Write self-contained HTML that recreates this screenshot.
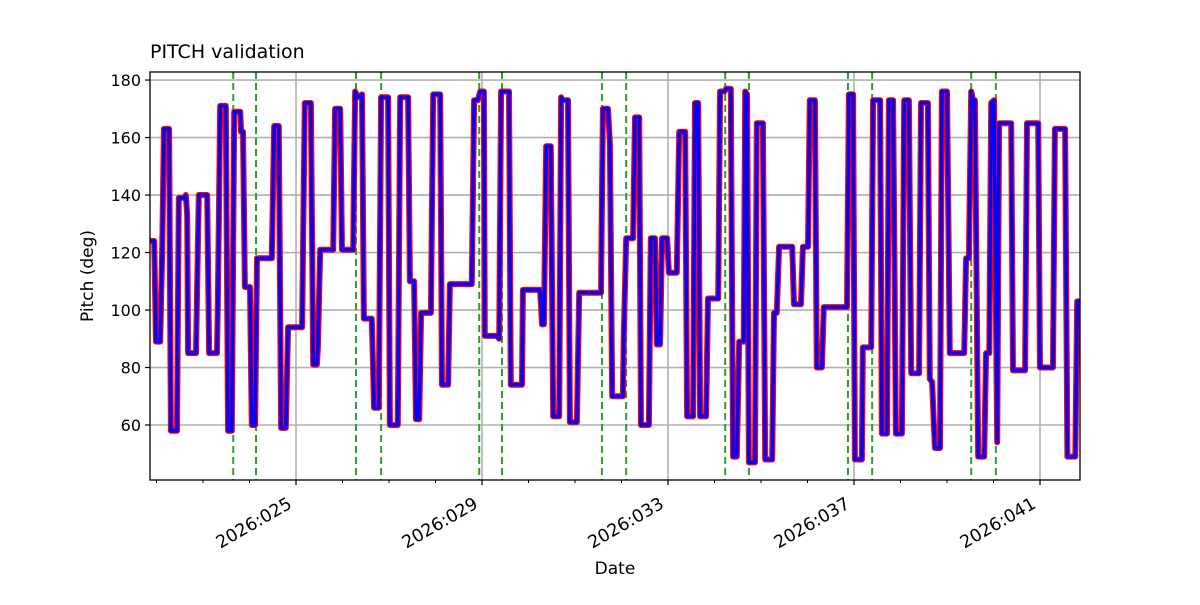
<!DOCTYPE html>
<html><head><meta charset="utf-8"><style>
body{margin:0;background:#fff}
svg{font-family:"DejaVu Sans","Liberation Sans",sans-serif}
</style></head><body>
<svg id="chart" width="1200" height="600" xmlns="http://www.w3.org/2000/svg">
<rect width="1200" height="600" fill="#fff"/>
<text x="150" y="58" font-size="19" fill="#000">PITCH validation</text>
<text transform="translate(93,276) rotate(-90)" text-anchor="middle" font-size="17">Pitch (deg)</text>
<text x="615" y="574" text-anchor="middle" font-size="17">Date</text>
<g id="grid"></g><g id="marks"></g><g id="axes"></g>
</svg>
<script>
const times=[21.86,21.95,21.99,22.08,22.12,22.16,22.27,22.31,22.44,22.48,22.61,22.63,22.66,22.68,22.85,22.91,23.09,23.13,23.30,23.32,23.37,23.49,23.54,23.62,23.67,23.80,23.82,23.86,23.90,24.01,24.05,24.12,24.16,24.48,24.53,24.63,24.68,24.78,24.83,25.13,25.19,25.32,25.37,25.45,25.47,25.52,25.80,25.84,25.95,25.99,26.23,26.27,26.33,26.42,26.46,26.63,26.68,26.78,26.83,26.98,27.02,27.19,27.24,27.41,27.45,27.54,27.58,27.65,27.69,27.90,27.95,28.10,28.14,28.27,28.31,28.78,28.83,28.91,28.96,29.04,29.06,29.32,29.37,29.41,29.58,29.62,29.86,29.88,30.25,30.29,30.33,30.38,30.48,30.53,30.66,30.70,30.74,30.85,30.89,31.04,31.09,31.56,31.60,31.71,31.75,31.80,32.03,32.05,32.10,32.25,32.29,32.38,32.42,32.59,32.63,32.72,32.76,32.83,32.87,32.98,33.02,33.19,33.24,33.37,33.41,33.54,33.58,33.65,33.69,33.82,33.86,34.08,34.12,34.21,34.25,34.35,34.40,34.48,34.53,34.63,34.66,34.70,34.74,34.87,34.91,35.04,35.09,35.24,35.28,35.34,35.39,35.67,35.71,35.86,35.90,36.01,36.05,36.16,36.20,36.31,36.35,36.85,36.89,36.98,37.02,37.17,37.19,37.37,37.41,37.56,37.60,37.71,37.75,37.84,37.90,38.03,38.08,38.18,38.23,38.40,38.44,38.59,38.63,38.68,38.74,38.85,38.89,39.00,39.06,39.37,39.41,39.47,39.52,39.56,39.60,39.67,39.80,39.84,39.91,39.95,40.01,40.08,40.12,40.38,40.42,40.68,40.72,40.96,41.00,41.28,41.32,41.54,41.59,41.76,41.80,41.87];
const pitch=[124,124,89,89,119,163,163,58,58,139,139,140,133,85,85,140,140,85,85,104,171,171,58,58,169,169,162,162,108,108,60,60,118,118,164,164,59,59,94,94,172,172,81,81,87,121,121,170,170,121,121,176,174,175,97,97,66,66,174,174,60,60,174,174,110,110,62,62,99,99,175,175,74,74,109,109,173,173,176,176,91,91,90,176,176,74,74,107,107,95,95,157,157,63,63,174,173,173,61,61,106,106,170,170,158,70,70,91,125,125,167,167,60,60,125,125,88,88,125,125,113,113,162,162,63,63,172,172,63,63,104,104,176,176,177,177,49,49,89,89,176,175,47,47,165,165,48,48,99,99,122,122,102,102,122,122,173,173,80,80,101,101,175,175,48,48,87,87,173,173,57,57,173,173,57,57,173,173,78,78,172,172,76,75,52,52,176,176,85,85,118,118,176,173,173,49,49,85,85,172,173,54,165,165,79,79,165,165,80,80,163,163,49,49,103,103];
const eventDays=[23.65,24.14,26.29,26.83,28.94,29.43,31.58,32.10,34.23,34.74,36.87,37.39,39.52,40.05];
const yTicks=[60,80,100,120,140,160,180];
const xTickDays=[25,29,33,37,41];
const xTickLabels=["2026:025","2026:029","2026:033","2026:037","2026:041"];
const L=150,R=1080,T=72,B=480,X0=21.86,X1=41.86,Y0=40.87,Y1=182.8;
const sx=d=>L+(d-X0)/(X1-X0)*(R-L);
const sy=v=>B-(v-Y0)/(Y1-Y0)*(B-T);
const NS="http://www.w3.org/2000/svg";
function mk(p,tag,a){const e=document.createElementNS(NS,tag);for(const k in a)e.setAttribute(k,a[k]);p.appendChild(e);return e;}
const grid=document.getElementById('grid'),marks=document.getElementById('marks'),axes=document.getElementById('axes');
yTicks.forEach(v=>{const g=mk(grid,'line',{x1:L,x2:R,y1:sy(v),y2:sy(v),stroke:'#b0b0b0','stroke-width':1.6});


const t=mk(axes,'line',{x1:L-5,x2:L,y1:sy(v),y2:sy(v),stroke:'#000','stroke-width':1.2});


const tx=mk(axes,'text',{x:L-9,y:sy(v)+6,'text-anchor':'end','font-size':16});tx.textContent=v;

});
xTickDays.forEach((d,i)=>{const g=mk(grid,'line',{x1:sx(d),x2:sx(d),y1:T,y2:B,stroke:'#b0b0b0','stroke-width':1.6});


const t=mk(axes,'line',{x1:sx(d),x2:sx(d),y1:B,y2:B+5,stroke:'#000','stroke-width':1.2});


const tx=mk(axes,'text',{x:0,y:0,'text-anchor':'end','font-size':17.5,transform:`translate(${sx(d)-3},${B+27}) rotate(-30)`});tx.textContent=xTickLabels[i];

});
for(let d=22;d<=41;d++){if(xTickDays.includes(d))continue;const t=mk(axes,'line',{x1:sx(d),x2:sx(d),y1:B,y2:B+3,stroke:'#000','stroke-width':1});

}
eventDays.forEach(d=>{const l=mk(marks,'line',{x1:sx(d),x2:sx(d),y1:T,y2:B,stroke:'#2ca02c','stroke-width':2,'stroke-dasharray':'7,4'});

});
const pts=times.map((t,i)=>sx(t).toFixed(1)+','+sy(pitch[i]).toFixed(1)).join(' ');
const r=mk(marks,'polyline',{points:pts,fill:'none',stroke:'#ff0000','stroke-width':6,'stroke-linejoin':'round'});


const b=mk(marks,'polyline',{points:pts,fill:'none',stroke:'#0000ff','stroke-width':3.5,'stroke-linejoin':'round'});


const cp=mk(axes,'rect',{x:L,y:T,width:R-L,height:B-T,fill:'none',stroke:'#000','stroke-width':1.3});


</script>
</body></html>
